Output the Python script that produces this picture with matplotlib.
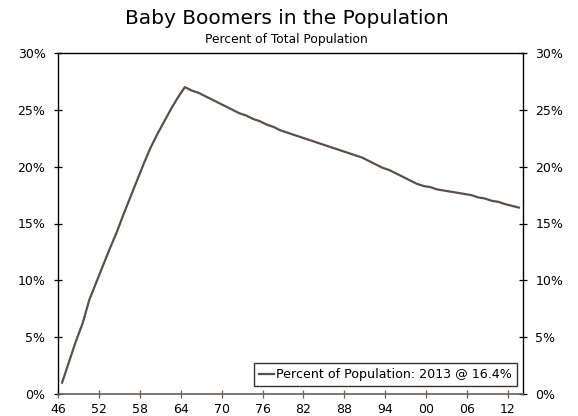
import numpy as np
import matplotlib
matplotlib.use("Agg")
import matplotlib.pyplot as plt
from matplotlib.ticker import FixedLocator, FuncFormatter

years = list(range(1946, 2014))
pct = [1.0, 2.8, 4.6, 6.2, 8.3, 9.8, 11.3, 12.8, 14.2, 15.8,
       17.3, 18.8, 20.3, 21.7, 22.9, 24.0, 25.1, 26.1, 27.0, 26.7,
       26.5, 26.2, 25.9, 25.6, 25.3, 25.0, 24.7, 24.5, 24.2, 24.0,
       23.7, 23.5, 23.2, 23.0, 22.8, 22.6, 22.4, 22.2, 22.0, 21.8,
       21.6, 21.4, 21.2, 21.0, 20.8, 20.5, 20.2, 19.9, 19.7, 19.4,
       19.1, 18.8, 18.5, 18.3, 18.2, 18.0, 17.9, 17.8, 17.7, 17.6,
       17.5, 17.3, 17.2, 17.0, 16.9, 16.7, 16.55, 16.4]
x_ticks = list(range(1946, 2013, 6))
y_ticks = [0, 5, 10, 15, 20, 25, 30]
title = "Baby Boomers in the Population"
subtitle = "Percent of Total Population"
legend_label = "Percent of Population: 2013 @ 16.4%"

line_color = "#5b5048"

fig = plt.figure(figsize=(5.78, 4.16), dpi=100)
ax = fig.add_axes([58/578, 1-394/416, (523-58)/578, (394-53)/416])

xs = np.array(years) + 0.6
ax.plot(xs, pct, color=line_color, lw=1.6, label=legend_label)

ax.set_xlim(1946, 2014.2)
ax.set_ylim(0, 30)
ax.xaxis.set_major_locator(FixedLocator(x_ticks))
ax.xaxis.set_major_formatter(FuncFormatter(lambda v, p: f"{int(v) % 100:02d}"))
ax.yaxis.set_major_locator(FixedLocator(y_ticks))
ax.yaxis.set_major_formatter(FuncFormatter(lambda v, p: f"{int(v)}%"))
ax.tick_params(axis='both', direction='inout', length=6, width=0.9, labelsize=9, colors='black')
ax.tick_params(axis='x', color="#6b5f55", pad=3.5)
ax.tick_params(axis='y', left=True, right=True, labelleft=True, labelright=True, pad=6)

for s in ['left', 'right', 'top']:
    ax.spines[s].set_color('black')
    ax.spines[s].set_linewidth(1.0)
ax.spines['bottom'].set_color("#6b5f55")
ax.spines['bottom'].set_linewidth(1.2)

fig.text(286.5/578, 1-19/416, title, ha='center', va='center', fontsize=14.5)
fig.text(286.5/578, 1-39/416, subtitle, ha='center', va='center', fontsize=8.8)

leg = ax.legend(loc='lower right', fontsize=9.1, frameon=True, fancybox=False,
                handlelength=1.2, handletextpad=0.15, borderpad=0.4,
                bbox_to_anchor=(517/578, 1-386/416), bbox_transform=fig.transFigure,
                borderaxespad=0)
leg.get_frame().set_edgecolor('black')
leg.get_frame().set_linewidth(1.0)

fig.savefig("out.png", dpi=100)
